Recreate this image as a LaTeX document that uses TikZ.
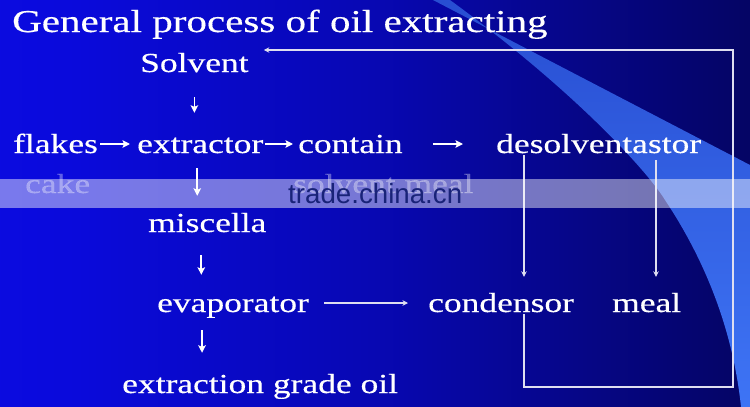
\documentclass[tikz,border=0pt]{standalone}
\usepackage{fontspec}
\setmainfont{Liberation Serif}[FakeStretch=1.29, FakeBold=0.4]
\newfontfamily\markfont{Liberation Sans}
\usetikzlibrary{arrows.meta}

\definecolor{slideline}{RGB}{222,222,240}
\definecolor{swooshtop}{RGB}{40,78,210}
\definecolor{swooshbot}{RGB}{62,116,245}
\definecolor{markblue}{RGB}{25,35,120}
\pgfdeclarehorizontalshading{slidebg}{100bp}{rgb(0bp)=(0.05,0.05,0.96); rgb(30bp)=(0.04,0.04,0.86); rgb(50bp)=(0.03,0.03,0.70); rgb(70bp)=(0.02,0.02,0.45); rgb(85bp)=(0.02,0.02,0.28); rgb(100bp)=(0.03,0.03,0.20)}

\begin{document}
\begin{tikzpicture}[x=1pt, y=-1pt,
  lbl/.style={text=white, font=\fontsize{27.5}{30}\selectfont, anchor=base west,
    inner sep=2pt, text height=18pt, text depth=0pt},
  flow/.style={draw=white, line width=1.7pt, -{Stealth[length=7.5pt,width=7.5pt,inset=1.5pt]}},
  link/.style={draw=slideline, line width=1.2pt, -{Stealth[length=5.5pt,width=5.5pt]}}]
  \useasboundingbox (0,0) rectangle (750,407);

  % Background and light swoosh
  \shade[shading=slidebg] (0,0) rectangle (750,407);
  \shade[top color=swooshtop, bottom color=swooshbot]
    (433,0) -- (750,165) -- (750,407) -- (741,407)
    .. controls (733,330) and (705,260) .. (665,200)
    .. controls (650,175) and (580,95) .. (450,0) -- cycle;

  \node[lbl, font=\fontsize{31.8}{34}\selectfont] (title) at (10,32) {General process of oil extracting};

  % Process steps
  \node[lbl] (solvent) at (138,72) {Solvent};
  \node[lbl] (flakes) at (11,153) {flakes};
  \node[lbl] (extractor) at (135,153) {extractor};
  \node[lbl] (contain) at (296,153) {contain};
  \node[lbl] (desolv) at (494,153) {desolventastor};
  \node[lbl, text opacity=0.35] (cake) at (23,193) {cake};
  \node[lbl, text opacity=0.35] (solvmeal) at (291,193) {solvent meal};
  \node[lbl] (miscella) at (146,232) {miscella};
  \node[lbl] (evaporator) at (155,312) {evaporator};
  \node[lbl] (condensor) at (426,312) {condensor};
  \node[lbl] (meal) at (610,312) {meal};
  \node[lbl] (oil) at (120,393) {extraction grade oil};

  % Arrows
  \draw[flow, shorten <=23pt, shorten >=20pt] (solvent.south) -- (solvent.south |- extractor.north);
  \draw[flow, shorten >=5pt] (flakes) -- (extractor);
  \draw[flow, shorten >=3pt] (extractor) -- (contain);
  \draw[flow, shorten <=28pt, shorten >=31pt] (contain) -- (desolv);
  \draw[flow, shorten <=13pt, shorten >=16pt] ([xshift=-3pt]extractor.south) -- ([xshift=-3pt]extractor.south |- miscella.north);
  \draw[flow, shorten <=21pt, shorten >=17pt] ([xshift=-6pt]miscella.south) -- ([xshift=-6pt]miscella.south |- evaporator.north);
  \draw[flow, shorten <=16pt, shorten >=20pt] ([xshift=-31pt]evaporator.south) -- ([xshift=-31pt]evaporator.south |- oil.north);
  \draw[link, shorten <=13pt, shorten >=18pt] (evaporator) -- (condensor);
  \draw[link, shorten >=15pt] ([xshift=30pt]desolv.south west) -- ([xshift=30pt]desolv.south west |- condensor.north);
  \draw[link, shorten <=5pt, shorten >=15pt] ([xshift=162pt]desolv.south west) -- ([xshift=162pt]desolv.south west |- meal.north);

  % Solvent recovered back to the extractor
  \coordinate (backlow) at (733,387);
  \coordinate (backtop) at (733,50);
  \draw[link, shorten >=13pt] ([xshift=30pt]desolv.south west |- condensor.south) |- (backlow) -- (backtop) -- (backtop -| solvent.east);

  % Watermark band
  \fill[white, opacity=0.45] (0,179) rectangle (750,208);
  \node[font=\markfont\fontsize{27.7}{30}\selectfont, text=markblue, anchor=base west, inner sep=0pt] (mark) at (288,203) {trade.china.cn};
\end{tikzpicture}
\end{document}
